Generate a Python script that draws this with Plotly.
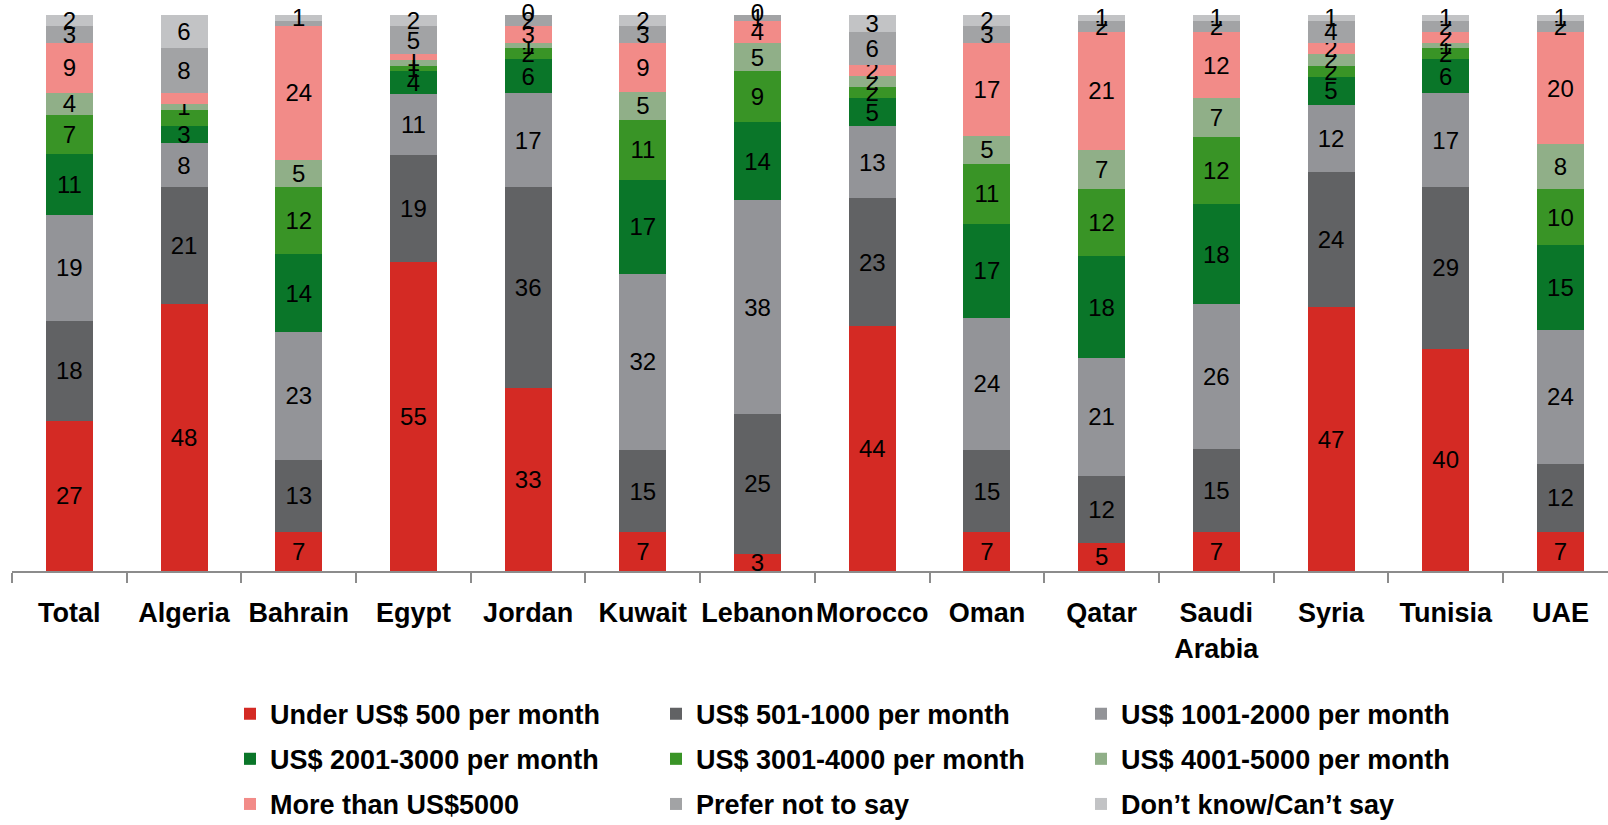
import plotly.graph_objects as go

# Countries (categories) along the x axis
countries = ["Total", "Algeria", "Bahrain", "Egypt", "Jordan", "Kuwait", "Lebanon",
             "Morocco", "Oman", "Qatar", "Saudi<br>Arabia", "Syria", "Tunisia", "UAE"]

# Share of respondents (%) per monthly household income band
under_500 = [27, 48, 7, 55, 33, 7, 3, 44, 7, 5, 7, 47, 40, 7]
usd_501_1000 = [18, 21, 13, 19, 36, 15, 25, 23, 15, 12, 15, 24, 29, 12]
usd_1001_2000 = [19, 8, 23, 11, 17, 32, 38, 13, 24, 21, 26, 12, 17, 24]
usd_2001_3000 = [11, 3, 14, 4, 6, 17, 14, 5, 17, 18, 18, 5, 6, 15]
usd_3001_4000 = [7, 3, 12, 1, 2, 11, 9, 2, 11, 12, 12, 2, 2, 10]
usd_4001_5000 = [4, 1, 5, 1, 1, 5, 5, 2, 5, 7, 7, 2, 1, 8]
over_5000 = [9, 2, 24, 1, 3, 9, 4, 2, 17, 21, 12, 2, 2, 20]
prefer_not = [3, 8, 1, 5, 2, 3, 1, 6, 3, 2, 2, 4, 2, 2]
dont_know = [2, 6, 1, 2, 0, 2, 0, 3, 2, 1, 1, 1, 1, 1]

series_names = ["Under US$ 500 per month", "US$ 501-1000 per month", "US$ 1001-2000 per month",
                "US$ 2001-3000 per month", "US$ 3001-4000 per month", "US$ 4001-5000 per month",
                "More than US$5000", "Prefer not to say", "Don\u2019t know/Can\u2019t say"]
series_values = [under_500, usd_501_1000, usd_1001_2000, usd_2001_3000, usd_3001_4000,
                 usd_4001_5000, over_5000, prefer_not, dont_know]
series_colors = ["#D42A24", "#616264", "#939498", "#0A7629", "#399426", "#90AF88",
                 "#F28B88", "#A2A3A5", "#C2C3C5"]

# Segments whose value label is left off (series index, category index)
unlabelled = {(4, 1), (6, 1), (7, 2)}

FONT = "Liberation Sans, Arial, sans-serif"

fig = go.Figure()

for si, (name, vals, col) in enumerate(zip(series_names, series_values, series_colors)):
    labels = []
    for ci, v in enumerate(vals):
        if (si, ci) in unlabelled or v == 0:
            labels.append("")
        else:
            labels.append(str(v))
    fig.add_trace(go.Bar(
        x=countries, y=vals, name=name,
        marker=dict(color=col, line=dict(width=0)),
        text=labels, textposition="inside", insidetextanchor="middle",
        textangle=0, constraintext="none",
        textfont=dict(family=FONT, size=24, color="black"),
        cliponaxis=False, hoverinfo="skip",
        legend=["legend", "legend2", "legend3"][si % 3],
        legendgroup=name,
    ))

# Zero-valued top segments: label sits on the top of the stack
totals = [sum(s[ci] for s in series_values) for ci in range(len(countries))]
zx, zy, zt = [], [], []
for ci in range(len(countries)):
    if dont_know[ci] == 0:
        zx.append(countries[ci])
        zy.append(sum(s[ci] for s in series_values) / totals[ci] * 100)
        zt.append(str(dont_know[ci]))
fig.add_trace(go.Scatter(
    x=zx, y=zy, text=zt, mode="text", textposition="middle center",
    textfont=dict(family=FONT, size=24, color="black"),
    showlegend=False, cliponaxis=False, hoverinfo="skip",
))

legend_common = dict(
    orientation="v", xref="container", yref="container", xanchor="left", yanchor="top",
    y=0.164, font=dict(family=FONT, size=27, color="black", weight="bold"),
    bgcolor="rgba(0,0,0,0)", borderwidth=0, traceorder="grouped", tracegroupgap=7,
    itemclick=False, itemdoubleclick=False,
)

fig.update_layout(
    width=1608, height=825,
    barmode="stack", barnorm="percent", bargap=0.59,
    plot_bgcolor="white", paper_bgcolor="white",
    margin=dict(l=12, r=0, t=15, b=254, autoexpand=False),
    font=dict(family=FONT, color="black"),
    xaxis=dict(
        type="category", range=[-0.5, 13.415],
        showline=True, linecolor="#8C8C8C", linewidth=2,
        ticks="outside", tickson="boundaries", ticklen=10, tickwidth=1.5, tickcolor="#8C8C8C",
        tickfont=dict(family=FONT, size=27, color="black", weight="bold"),
        ticklabelstandoff=17,
        tickangle=0, showgrid=False, zeroline=False,
    ),
    yaxis=dict(range=[0, 100], visible=False, showgrid=False, zeroline=False),
    legend=dict(legend_common, x=230 / 1608),
    legend2=dict(legend_common, x=656 / 1608),
    legend3=dict(legend_common, x=1081 / 1608),
)

fig.write_html("out.html")
